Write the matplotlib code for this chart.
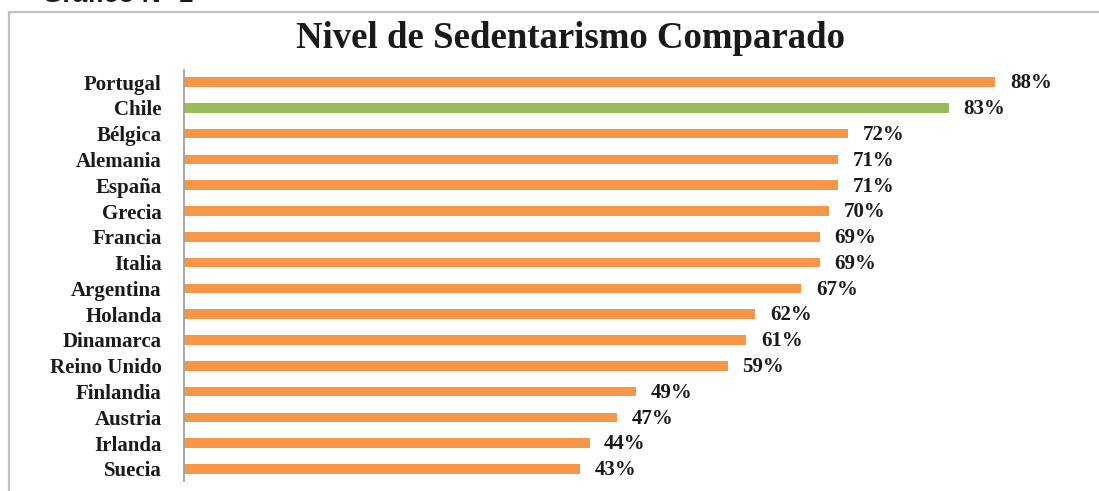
import matplotlib.pyplot as plt
from matplotlib.patches import Rectangle

# datos del gráfico
paises = ["Portugal", "Chile", "Bélgica", "Alemania", "España", "Grecia",
          "Francia", "Italia", "Argentina", "Holanda", "Dinamarca",
          "Reino Unido", "Finlandia", "Austria", "Irlanda", "Suecia"]
valores = [88, 83, 72, 71, 71, 70, 69, 69, 67, 62, 61, 59, 49, 47, 44, 43]
destacado = "Chile"

naranja = "#F79646"
verde = "#9BBB59"
texto = "#1a1a1a"

plt.rcParams['font.family'] = ['Liberation Serif', 'DejaVu Serif']

fig = plt.figure(figsize=(10.99, 4.91), dpi=100)

# marco gris del recuadro
fig.patches.append(Rectangle((9 / 1099, -0.1), 1.2, 1 - 12 / 491 + 0.1,
                             transform=fig.transFigure, fill=False,
                             edgecolor="#c0c0c0", linewidth=1.6))

# titulo del documento, cortado arriba
fig.text(42 / 1099, 1 - 2 / 491, "Gráfico N° 1", family=['Liberation Sans'],
         fontsize=19, fontweight='bold', color=texto, va='baseline', ha='left')

ax = fig.add_axes([184 / 1099, 1 - 481 / 491, 1 - 184 / 1099, 411 / 491])

colores = [verde if p == destacado else naranja for p in paises]
pos = list(range(len(paises)))
ax.barh(pos, valores, height=0.37, color=colores)

for y, v in zip(pos, valores):
    ax.text(v + 1.6, y + 0.05, f"{v}%", va='center', ha='left', fontsize=15,
            fontweight='bold', color=texto)

ax.set_xlim(0, (1099 - 184) / 9.216)
ax.set_ylim(15.47, -0.47)
ax.set_yticks(pos)
ax.set_yticklabels(paises, fontsize=15, fontweight='bold', color=texto)
ax.tick_params(axis='y', length=0, pad=16)
ax.set_xticks([])
for s in ['top', 'right', 'bottom']:
    ax.spines[s].set_visible(False)
ax.spines['left'].set_color('#a0a0a0')
ax.spines['left'].set_linewidth(1.3)

fig.text(570 / 1099, 1 - 39 / 491, "Nivel de Sedentarismo Comparado",
         ha='center', va='center', fontsize=26.5, fontweight='bold', color=texto)

fig.savefig("out.png", dpi=100)
